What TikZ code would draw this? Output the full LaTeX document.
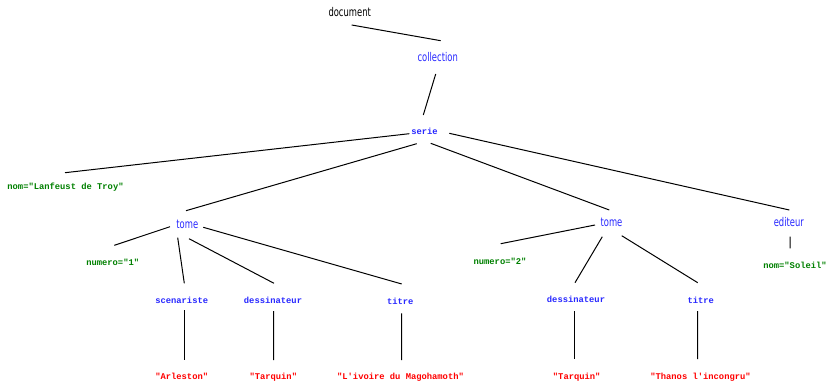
\documentclass[tikz,border=0pt]{standalone}
\usepackage{fontspec}
\usepackage{tikz}
\newfontfamily\tagsans[FakeStretch=0.7]{DejaVu Sans}
\newfontfamily\tagmono{Liberation Mono}
\definecolor{tagblue}{RGB}{40,40,255}
\definecolor{attrgreen}{RGB}{0,128,0}
\definecolor{valred}{RGB}{255,0,0}

\begin{document}
\begin{tikzpicture}[
    x=0.75pt, y=-0.75pt,
    base/.style={inner sep=0pt, anchor=base},
    root/.style={base, font=\tagsans\fontsize{9}{10}\selectfont, text=black},
    elem/.style={base, font=\tagsans\fontsize{9}{10}\selectfont, text=tagblue},
    leaf/.style={base, font=\tagmono\bfseries\fontsize{6.6}{8}\selectfont, text=tagblue},
    attr/.style={base, font=\tagmono\bfseries\fontsize{6.6}{8}\selectfont, text=attrgreen},
    val/.style={base, font=\tagmono\bfseries\fontsize{6.6}{8}\selectfont, text=valred},
    link/.style={draw=black, line width=0.75pt}
]
    \useasboundingbox (0,0) rectangle (827,381);

    % Nodes
    \node[root] (document) at (349.7,17) {document};
    \node[elem] (collection) at (437.7,61.5) {collection};
    \node[leaf] (serie) at (424.5,134.5) {serie};
    \node[attr] (nomserie) at (65.5,189) {nom="Lanfeust de Troy"};

    \node[elem] (tomeA) at (187.3,228) {tome};
    \node[attr] (numeroA) at (112.7,265) {numero="1"};
    \node[leaf] (scenariste) at (181.7,303) {scenariste};
    \node[leaf] (dessinateurA) at (273,303) {dessinateur};
    \node[leaf] (titreA) at (400.3,304) {titre};
    \node[val] (arleston) at (181.7,379.5) {"Arleston"};
    \node[val] (tarquinA) at (273.3,379.5) {"Tarquin"};
    \node[val] (ivoire) at (400.5,379.5) {"L'ivoire du Magohamoth"};

    \node[elem] (tomeB) at (611.5,226.5) {tome};
    \node[attr] (numeroB) at (500,264) {numero="2"};
    \node[leaf] (dessinateurB) at (576,302) {dessinateur};
    \node[leaf] (titreB) at (700.7,303.3) {titre};
    \node[val] (tarquinB) at (576.7,379.5) {"Tarquin"};
    \node[val] (thanos) at (700.5,379.5) {"Thanos l'incongru"};

    \node[elem] (editeur) at (788.8,226.5) {editeur};
    \node[attr] (nomediteur) at (795,268) {nom="Soleil"};

    % Lines
    \draw[link] ([shift={(2,8)}]document.base) -- ([shift={(3,-20.8)}]collection.base);
    \draw[link] ([shift={(-2,12.5)}]collection.base) -- ([shift={(-1.2,-19.5)}]serie.base);

    \draw[link] ([shift={(-15.2,-0.8)}]serie.base) -- ([shift={(-0.5,-16.3)}]nomserie.base);
    \draw[link] ([shift={(-7.8,9.2)}]serie.base) -- ([shift={(-1.3,-17.3)}]tomeA.base);
    \draw[link] ([shift={(6.2,8.8)}]serie.base) -- ([shift={(-2.2,-16.5)}]tomeB.base);
    \draw[link] ([shift={(24.8,-1.2)}]serie.base) -- ([shift={(0.5,-16.5)}]editeur.base);

    \draw[link] ([shift={(-17.3,-1.3)}]tomeA.base) -- ([shift={(1.6,-19.7)}]numeroA.base);
    \draw[link] ([shift={(-9.6,9.7)}]tomeA.base) -- ([shift={(2.6,-19.7)}]scenariste.base);
    \draw[link] ([shift={(1.7,10.7)}]tomeA.base) -- ([shift={(1,-19.7)}]dessinateurA.base);
    \draw[link] ([shift={(16,-0.7)}]tomeA.base) -- ([shift={(1.4,-20)}]titreA.base);
    \draw[link] ([shift={(2.3,7)}]scenariste.base) -- ([shift={(2.3,-19.5)}]arleston.base);
    \draw[link] ([shift={(0.7,8)}]dessinateurA.base) -- ([shift={(0.4,-19.5)}]tarquinA.base);
    \draw[link] ([shift={(1.4,9.3)}]titreA.base) -- ([shift={(1.2,-19.5)}]ivoire.base);

    \draw[link] ([shift={(-16.5,-1.5)}]tomeB.base) -- ([shift={(0.7,-20.3)}]numeroB.base);
    \draw[link] ([shift={(-9.2,10.2)}]tomeB.base) -- ([shift={(-1,-19.3)}]dessinateurB.base);
    \draw[link] ([shift={(10.2,9.2)}]tomeB.base) -- ([shift={(-3,-20.6)}]titreB.base);
    \draw[link] ([shift={(-1.7,9)}]dessinateurB.base) -- ([shift={(-2.4,-20.2)}]tarquinB.base);
    \draw[link] ([shift={(-3,7.7)}]titreB.base) -- ([shift={(-2.8,-20.5)}]thanos.base);

    \draw[link] ([shift={(1.2,10.2)}]editeur.base) -- ([shift={(-5,-19.7)}]nomediteur.base);
\end{tikzpicture}
\end{document}
